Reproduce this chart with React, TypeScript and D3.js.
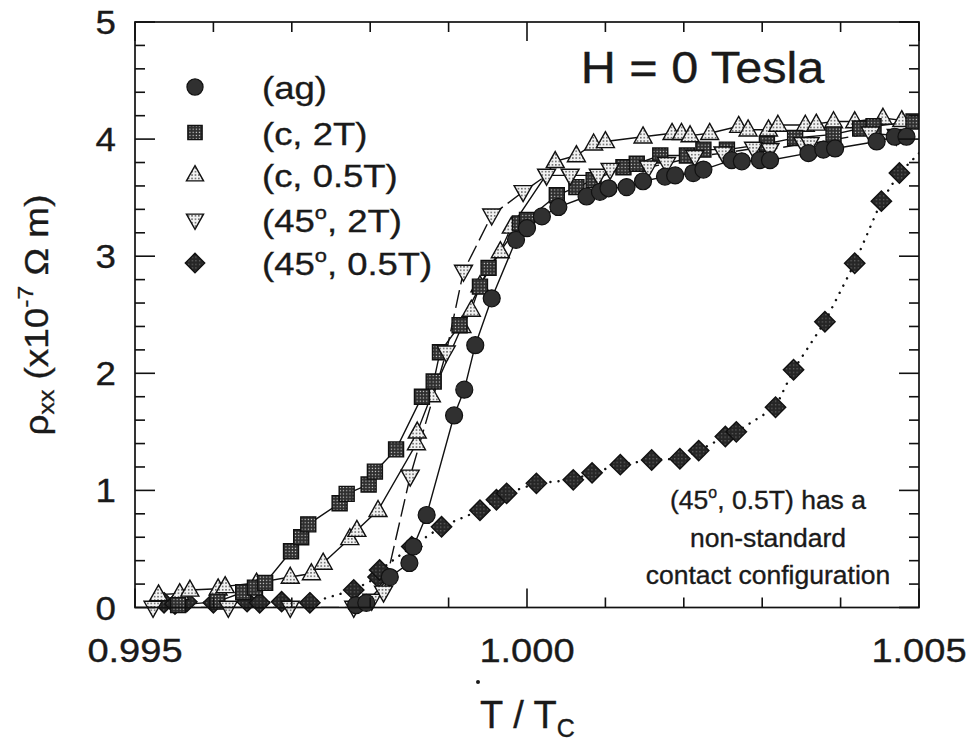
import React from "react";
import * as d3 from "d3";

// ---------- data (T/Tc, rho in 1e-7 Ohm m) ----------
const agT = [0.99782, 0.99795, 0.99825, 0.9985, 0.99855, 0.99872, 0.99907, 0.9992, 0.99934, 0.99955, 0.99986, 1.0, 1.00019, 1.0004, 1.00076, 1.00093, 1.00104, 1.00127, 1.00148, 1.00176, 1.00189, 1.00212, 1.00225, 1.00261, 1.00274, 1.00297, 1.0031, 1.00359, 1.00378, 1.00393, 1.00446, 1.00469, 1.00484];
const agR = [0.02, 0.04, 0.26, 0.38, 0.52, 0.79, 1.64, 1.86, 2.24, 2.64, 3.14, 3.24, 3.34, 3.42, 3.51, 3.55, 3.58, 3.59, 3.64, 3.68, 3.69, 3.71, 3.74, 3.82, 3.81, 3.82, 3.82, 3.88, 3.91, 3.92, 3.98, 4.02, 4.02];

const c2T = [0.99555, 0.99605, 0.99638, 0.99653, 0.99666, 0.99699, 0.99712, 0.99721, 0.99761, 0.9977, 0.99798, 0.99806, 0.99833, 0.99866, 0.99881, 0.99889, 0.99914, 0.9994, 0.99951, 0.99991, 1.0, 1.00038, 1.00063, 1.00085, 1.00123, 1.0014, 1.0017, 1.00204, 1.00225, 1.00255, 1.00306, 1.00342, 1.00391, 1.00425, 1.00442, 1.00493];
const c2R = [0.02, 0.05, 0.13, 0.17, 0.21, 0.48, 0.6, 0.71, 0.89, 0.97, 1.05, 1.16, 1.35, 1.8, 1.93, 2.18, 2.41, 2.74, 2.9, 3.28, 3.31, 3.52, 3.59, 3.65, 3.76, 3.79, 3.86, 3.86, 3.91, 3.91, 3.96, 4.01, 4.04, 4.09, 4.11, 4.15];

const c05T = [0.9953, 0.99557, 0.9957, 0.99606, 0.99615, 0.99655, 0.99698, 0.99725, 0.9974, 0.99774, 0.99783, 0.9981, 0.99859, 0.9986, 0.99878, 0.99917, 0.99929, 0.9994, 0.99966, 0.9998, 1.00036, 1.00063, 1.00085, 1.001, 1.00148, 1.00185, 1.00197, 1.00208, 1.00233, 1.0027, 1.00282, 1.00308, 1.0032, 1.00355, 1.00369, 1.00391, 1.00418, 1.00454, 1.00478];
const c05R = [0.11, 0.12, 0.15, 0.16, 0.18, 0.21, 0.26, 0.29, 0.38, 0.59, 0.66, 0.83, 1.4, 1.5, 1.81, 2.4, 2.54, 2.75, 3.04, 3.25, 3.81, 3.86, 3.96, 3.98, 4.02, 4.05, 4.05, 4.03, 4.05, 4.11, 4.08, 4.08, 4.12, 4.12, 4.13, 4.15, 4.15, 4.18, 4.16];

const d2T = [0.99523, 0.99619, 0.99698, 0.99779, 0.99802, 0.99817, 0.99851, 0.99897, 0.99919, 0.99955, 0.99995, 1.00025, 1.00055, 1.00091, 1.00106, 1.00155, 1.00178, 1.00214, 1.0025, 1.00289, 1.0031, 1.00352, 1.00361, 1.00438, 1.00471];
const d2R = [0.0, 0.0, 0.0, 0.0, 0.06, 0.13, 1.12, 2.18, 2.87, 3.35, 3.55, 3.69, 3.69, 3.69, 3.74, 3.76, 3.79, 3.85, 3.88, 3.92, 3.91, 3.96, 3.96, 4.05, 4.03];

const d05T = [0.99537, 0.99551, 0.99566, 0.996, 0.99643, 0.99659, 0.99687, 0.99723, 0.99779, 0.9981, 0.99812, 0.99853, 0.99891, 0.9994, 0.99961, 0.99974, 1.00012, 1.00059, 1.00083, 1.00119, 1.00159, 1.00195, 1.00219, 1.00253, 1.00267, 1.00317, 1.0034, 1.0038, 1.00418, 1.00452, 1.00475, 1.0054];
const d05R = [0.04, 0.03, 0.05, 0.04, 0.05, 0.04, 0.05, 0.04, 0.15, 0.26, 0.32, 0.52, 0.69, 0.83, 0.92, 0.975, 1.06, 1.09, 1.15, 1.22, 1.26, 1.27, 1.34, 1.46, 1.5, 1.71, 2.03, 2.44, 2.94, 3.47, 3.71, 4.15];

const xTickValues = [0.995, 0.996, 0.997, 0.998, 0.999, 1.0, 1.001, 1.002, 1.003, 1.004, 1.005];
const xTickLabels = ["0.995", "", "", "", "", "1.000", "", "", "", "", "1.005"];
const yTickValues = d3.range(0, 26).map((i) => i * 0.2);
const yTickLabels = ["0", "1", "2", "3", "4", "5"];

type Marker = "circle" | "square" | "triUp" | "triDown" | "diamond";

const zip = (a: number[], b: number[]) => a.map((v, i) => [v, b[i]] as [number, number]);

const series = [
  { key: "ag", pts: zip(agT, agR), marker: "circle" as Marker, dash: "", fill: "#303030" },
  { key: "c2", pts: zip(c2T, c2R), marker: "square" as Marker, dash: "", fill: "url(#patSq)" },
  { key: "c05", pts: zip(c05T, c05R), marker: "triUp" as Marker, dash: "", fill: "url(#patTri)" },
  { key: "d2", pts: zip(d2T, d2R), marker: "triDown" as Marker, dash: "18 6", fill: "url(#patTri)" },
  { key: "d05", pts: zip(d05T, d05R), marker: "diamond" as Marker, dash: "dot", fill: "url(#patDia)" },
];

function markerPath(m: Marker, cx: number, cy: number, s = 1): string {
  switch (m) {
    case "square": {
      const h = 7.5 * s;
      return `M${cx - h},${cy - h}H${cx + h}V${cy + h}H${cx - h}Z`;
    }
    case "triUp": {
      const w = 9 * s;
      return `M${cx},${cy - 9.8 * s}L${cx + w},${cy + 6.2 * s}L${cx - w},${cy + 6.2 * s}Z`;
    }
    case "triDown": {
      const w = 9 * s;
      return `M${cx},${cy + 9.8 * s}L${cx + w},${cy - 6.2 * s}L${cx - w},${cy - 6.2 * s}Z`;
    }
    case "diamond": {
      const r = 10.2 * s;
      return `M${cx},${cy - r}L${cx + r},${cy}L${cx},${cy + r}L${cx - r},${cy}Z`;
    }
    default:
      return "";
  }
}

function Mark({ m, cx, cy, fill, s = 1 }: { m: Marker; cx: number; cy: number; fill: string; s?: number }) {
  if (m === "circle")
    return <circle cx={cx} cy={cy} r={8.5 * s} fill={fill} stroke="#111" strokeWidth={1.2} />;
  return <path d={markerPath(m, cx, cy, s)} fill={fill} stroke="#111" strokeWidth={1.4} strokeLinejoin="miter" />;
}

const FONT = "'Liberation Sans', Arial, Helvetica, sans-serif";
const INK = "#1a1a1a";

function SText({ x, y, sx = 1, size, anchor = "start", children, rotate = 0 }: any) {
  return (
    <text
      transform={`translate(${x},${y}) rotate(${rotate}) scale(${sx},1)`}
      fontFamily={FONT}
      fontSize={size}
      textAnchor={anchor}
      fill={INK}
      stroke={INK}
      strokeWidth={0.35}
    >
      {children}
    </text>
  );
}

const legendLabels = ["(ag)", "(c, 2T)", "(c, 0.5T)", "(45|, 2T)", "(45|, 0.5T)"];

function Deg({ text, size }: { text: string; size: number }) {
  // "|" marks a superscript "o" (degree)
  const parts = text.split("|");
  if (parts.length === 1) return <>{text}</>;
  return (
    <>
      {parts[0]}
      <tspan fontSize={size * 0.6} dy={-size * 0.42}>o</tspan>
      <tspan dy={size * 0.42}>{parts[1]}</tspan>
    </>
  );
}

export default function App() {
  const W = 976;
  const H = 747;
  const x = d3.scaleLinear().domain([0.995, 1.005]).range([135, 919]);
  const y = d3.scaleLinear().domain([0, 5]).range([607.5, 22]);
  const [x0, x1] = x.range();
  const [yb, yt] = y.range();

  const line = d3
    .line<[number, number]>()
    .x((d) => x(d[0]))
    .y((d) => y(d[1]));

  const drawOrder = ["d05", "c05", "c2", "d2", "ag"];
  const legendY = [87, 132.5, 175, 220, 263];

  return (
    <svg
      width={W}
      height={H}
      viewBox={`0 0 ${W} ${H}`}
      style={{ position: "absolute", left: 0, top: 0, display: "block", background: "#fff" }}
    >
      <defs>
        <pattern id="patSq" width={3.2} height={3.2} patternUnits="userSpaceOnUse">
          <rect width={3.2} height={3.2} fill="#2e2e2e" />
          <rect x={0.6} y={0.6} width={1.1} height={1.1} fill="#e0e0e0" />
        </pattern>
        <pattern id="patTri" width={3.4} height={3.4} patternUnits="userSpaceOnUse">
          <rect width={3.4} height={3.4} fill="#f2f2f2" />
          <rect x={1} y={1} width={1.3} height={1.3} fill="#2a2a2a" />
        </pattern>
        <pattern id="patDia" width={3.6} height={3.6} patternUnits="userSpaceOnUse">
          <rect width={3.6} height={3.6} fill="#262626" />
          <rect x={1.1} y={1.1} width={1} height={1} fill="#8a8a8a" />
        </pattern>
        <clipPath id="plotClip">
          <rect x={x0} y={0} width={x1 - x0} height={yb + 30} />
        </clipPath>
        <clipPath id="lineClip">
          <rect x={x0} y={yt} width={x1 - x0} height={yb - yt} />
        </clipPath>
      </defs>

      <rect width={W} height={H} fill="#fff" />

      {/* lines */}
      <g clipPath="url(#lineClip)" fill="none">
        {drawOrder.map((k) => {
          const s = series.find((q) => q.key === k)!;
          const dotted = s.dash === "dot";
          return (
            <path
              key={k}
              d={line(s.pts) || ""}
              stroke="#111"
              strokeWidth={dotted ? 2.4 : 1.4}
              strokeDasharray={dotted ? "0.1 8" : s.dash || undefined}
              strokeLinecap={dotted ? "round" : "butt"}
            />
          );
        })}
      </g>

      {/* markers */}
      <g clipPath="url(#plotClip)">
        {drawOrder.map((k) => {
          const s = series.find((q) => q.key === k)!;
          return (
            <g key={k}>
              {s.pts.map((p, i) => (
                <Mark key={i} m={s.marker} cx={x(p[0])} cy={y(p[1])} fill={s.fill} />
              ))}
            </g>
          );
        })}
      </g>

      {/* frame */}
      <rect x={x0} y={yt} width={x1 - x0} height={yb - yt} fill="none" stroke="#111" strokeWidth={1.7} />

      {/* x ticks */}
      {xTickValues.map((v, i) => {
        const len = xTickLabels[i] ? 19 : 10;
        const px = x(v);
        return (
          <g key={"xt" + i} stroke="#111" strokeWidth={1.6}>
            <line x1={px} x2={px} y1={yb} y2={yb - len} />
            <line x1={px} x2={px} y1={yt} y2={yt + len} />
          </g>
        );
      })}
      {/* y ticks */}
      {yTickValues.map((v, i) => {
        const major = i % 5 === 0;
        const len = major ? 20 : 10;
        const py = y(v);
        return (
          <g key={"yt" + i} stroke="#111" strokeWidth={1.6}>
            <line x1={x0} x2={x0 + len} y1={py} y2={py} />
            <line x1={x1} x2={x1 - len} y1={py} y2={py} />
          </g>
        );
      })}

      {/* x tick labels */}
      {xTickValues.map((v, i) =>
        xTickLabels[i] ? (
          <SText key={"xl" + i} x={x(v)} y={662} size={34} sx={1.12} anchor="middle">
            {xTickLabels[i]}
          </SText>
        ) : null
      )}
      {/* y tick labels */}
      {yTickLabels.map((lab, i) => (
        <SText key={"yl" + i} x={116} y={y(i) + 12} size={34} sx={1.08} anchor="end">
          {lab}
        </SText>
      ))}

      {/* axis titles */}
      <SText x={527.5} y={728} size={38} anchor="middle">
        T / T<tspan fontSize={25} dy={9}>C</tspan>
      </SText>
      <circle cx={478} cy={682} r={2} fill={INK} />
      <SText x={48} y={315} size={33} sx={1.12} anchor="middle" rotate={-90}>
        ρ<tspan fontSize={22} dy={6}>xx</tspan>
        <tspan dy={-6}> (x10</tspan>
        <tspan fontSize={22} dy={-15}>-7</tspan>
        <tspan dy={15}> Ω m)</tspan>
      </SText>

      {/* title */}
      <SText x={702.5} y={83} size={45} sx={1.08} anchor="middle">
        H = 0 Tesla
      </SText>

      {/* legend */}
      {series.map((s, i) => (
        <g key={"lg" + i}>
          <Mark m={s.marker} cx={195} cy={legendY[i]} fill={s.fill} s={0.95} />
          <SText x={262} y={legendY[i] + 12} size={32} sx={1.14}>
            <Deg text={legendLabels[i]} size={32} />
          </SText>
        </g>
      ))}

      {/* annotation */}
      <SText x={768} y={509} size={26.5} anchor="middle">
        <Deg text={"(45|, 0.5T) has a"} size={26.5} />
      </SText>
      <SText x={768} y={546.5} size={26.5} anchor="middle">
        non-standard
      </SText>
      <SText x={768} y={584} size={26.5} anchor="middle">
        contact configuration
      </SText>
    </svg>
  );
}
